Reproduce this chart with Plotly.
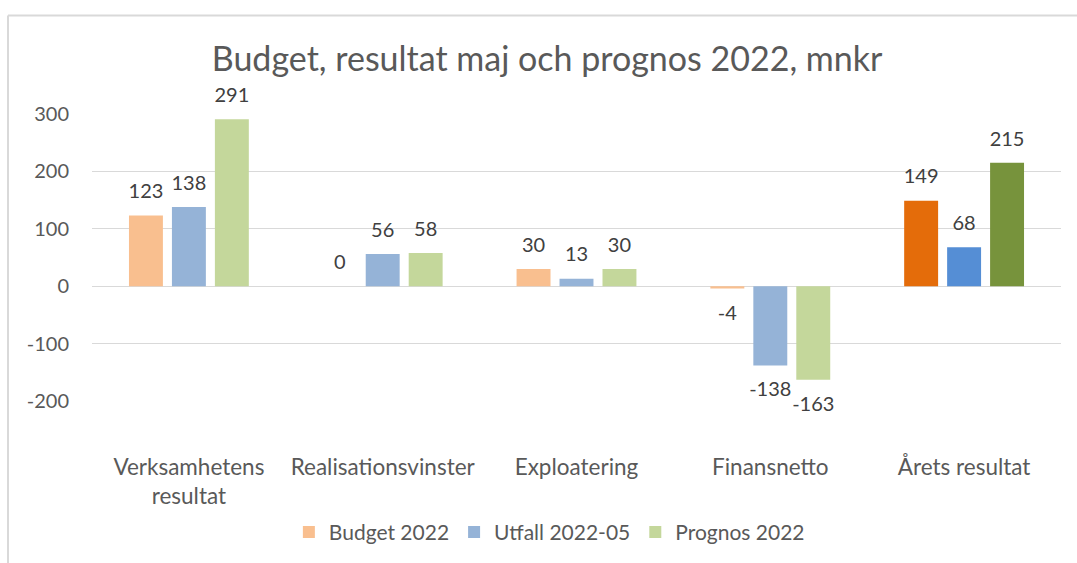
import plotly.graph_objects as go

categories = ["Verksamhetens<br>resultat", "Realisationsvinster", "Exploatering", "Finansnetto", "Årets resultat"]
series_names = ["Budget 2022", "Utfall 2022-05", "Prognos 2022"]
budget = [123, 0, 30, -4, 149]
utfall = [138, 56, 13, -138, 68]
prognos = [291, 58, 30, -163, 215]
y_ticks = [-200, -100, 0, 100, 200, 300]
y_tick_labels = ["-200", "-100", "0", "100", "200", "300"]

series_values = [budget, utfall, prognos]
light_colors = ["#F9BF8F", "#95B3D7", "#C4D79B"]
dark_colors = ["#E46C0A", "#558ED5", "#77933C"]

FONT = "Lato"
TICK_COLOR = "#595959"
LABEL_COLOR = "#404040"
GRID = "#D9D9D9"

fig = go.Figure()
for name, vals, lc, dc in zip(series_names, series_values, light_colors, dark_colors):
    colors = [lc] * (len(categories) - 1) + [dc]
    fig.add_trace(go.Bar(
        x=categories, y=vals, name=name,
        marker=dict(color=colors, line=dict(width=0)),
        offsetgroup=name,
        hoverinfo="skip",
    ))

for name, vals in zip(series_names, series_values):
    positions = ["top center" if v >= 0 else "bottom center" for v in vals]
    sizes = [18 if v >= 0 else 24 for v in vals]
    fig.add_trace(go.Scatter(
        x=categories, y=vals, mode="markers+text",
        text=[str(v) for v in vals], textposition=positions,
        textfont=dict(family=FONT, size=20, color=LABEL_COLOR),
        marker=dict(size=sizes, color="rgba(0,0,0,0)", opacity=0, line=dict(width=0)),
        offsetgroup=name,
        showlegend=False, cliponaxis=False, hoverinfo="skip",
    ))

fig.update_layout(
    width=1077, height=563,
    margin=dict(l=92, r=16, t=114, b=161),
    paper_bgcolor="white", plot_bgcolor="white",
    barmode="group", bargap=0.335, bargroupgap=0.21,
    scattermode="group", scattergap=0.335,
    title=dict(text="Budget, resultat maj och prognos 2022, mnkr",
               x=0.508, xanchor="center", y=0.8955, yanchor="middle",
               font=dict(family=FONT, size=34, color=TICK_COLOR)),
    font=dict(family=FONT, size=20, color=TICK_COLOR),
    showlegend=True,
    legend=dict(orientation="h", x=0.472, xanchor="center", y=-0.453, yanchor="middle",
                font=dict(family=FONT, size=21, color=TICK_COLOR),
                traceorder="normal"),
    xaxis=dict(showgrid=False, showline=False, ticks="", zeroline=False,
               tickfont=dict(family=FONT, size=22.5, color=TICK_COLOR),
               ticklabelstandoff=50),
    yaxis=dict(range=[-200, 300], tickvals=y_ticks, ticktext=y_tick_labels,
               showgrid=True, gridcolor=GRID, gridwidth=1.3,
               zeroline=True, zerolinecolor=GRID, zerolinewidth=1.3, showline=False, ticks="",
               tickfont=dict(family=FONT, size=20, color=TICK_COLOR),
               ticklabelstandoff=22),
    shapes=[
        dict(type="line", xref="paper", yref="paper", x0=-0.0867, x1=-0.0867, y0=-0.6, y1=1.343,
             line=dict(color=GRID, width=2)),
        dict(type="line", xref="paper", yref="paper", x0=-0.0867, x1=1.03, y0=1.343, y1=1.343,
             line=dict(color=GRID, width=2)),
    ],
)

fig.write_html("out.html", config={"displayModeBar": False},
               post_script="document.body.style.margin='0';document.body.style.overflow='hidden';")
